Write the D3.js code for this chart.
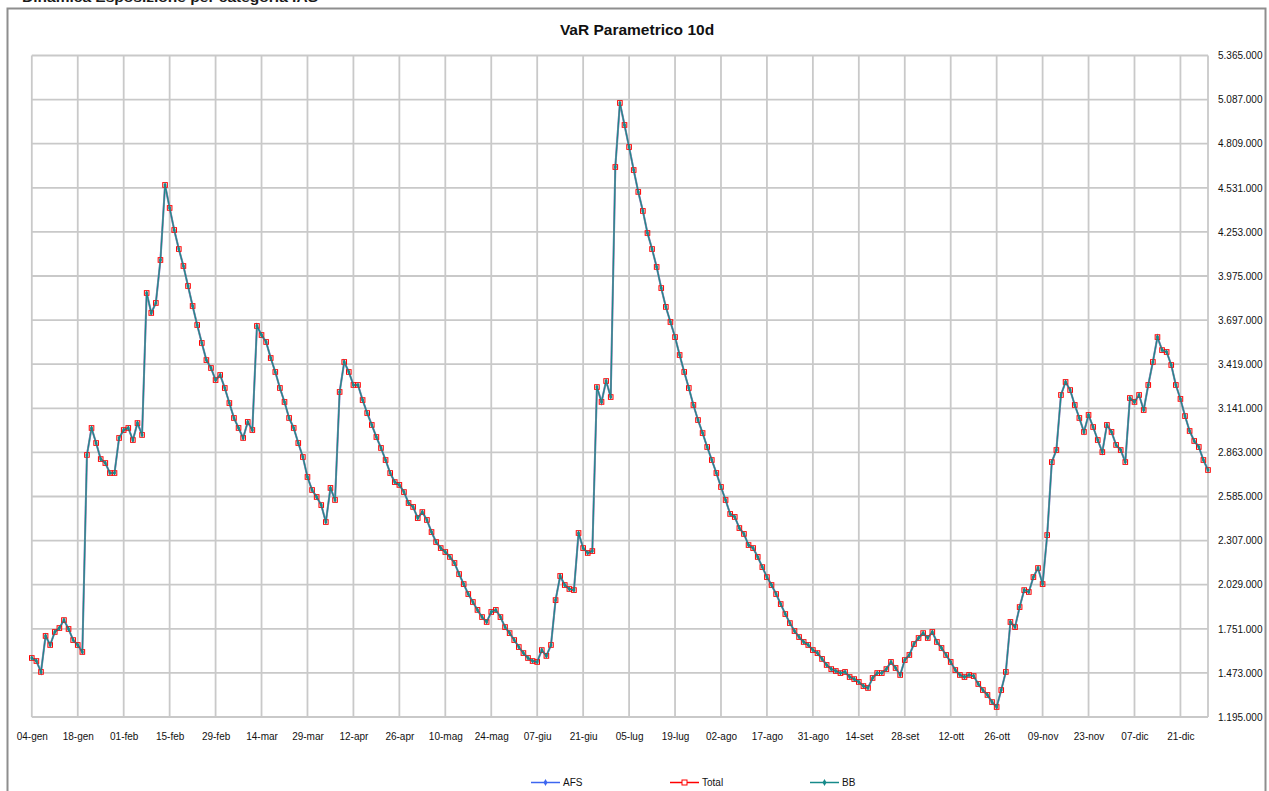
<!DOCTYPE html>
<html>
<head>
<meta charset="utf-8">
<script src="https://cdn.jsdelivr.net/npm/d3@7/dist/d3.min.js"></script>
<style>
  html, body { margin: 0; padding: 0; background: #fff; }
  svg { display: block; font-family: "Liberation Sans", Arial, sans-serif; }
</style>
</head>
<body>
<svg id="chart" width="1269" height="791"></svg>
<script>
// ---- DATA (values in thousands of euro) ----
const xTickLabels = ["04-gen","18-gen","01-feb","15-feb","29-feb","14-mar","29-mar","12-apr","26-apr","10-mag","24-mag","07-giu","21-giu","05-lug","19-lug","02-ago","17-ago","31-ago","14-set","28-set","12-ott","26-ott","09-nov","23-nov","07-dic","21-dic"];
const labelStep = 10; // one label every 10 business days
const yTickValues = [1195,1473,1751,2029,2307,2585,2863,3141,3419,3697,3975,4253,4531,4809,5087,5365];
const seriesNames = ["AFS","Total","BB"];

const totalValues = [
1567,1548,1479,1706,1649,1731,1756,1806,1750,1680,
1649,1605,2847,3017,2922,2821,2796,2733,2733,2954,
3004,3017,2941,3048,2973,3868,3742,3805,4076,4549,
4404,4265,4145,4038,3912,3786,3666,3553,3445,3395,
3319,3351,3269,3174,3080,3017,2954,3055,3004,3660,
3603,3559,3458,3370,3269,3181,3080,3017,2922,2834,
2708,2626,2582,2531,2424,2639,2563,3244,3433,3370,
3288,3288,3193,3111,3036,2960,2891,2815,2733,2676,
2658,2613,2544,2519,2449,2487,2437,2361,2298,2260,
2235,2204,2166,2096,2033,1970,1920,1870,1825,1794,
1857,1870,1825,1762,1724,1680,1636,1598,1567,1548,
1542,1617,1580,1649,1932,2084,2027,2002,1995,2355,
2260,2229,2241,3275,3181,3313,3212,4662,5066,4927,
4788,4643,4505,4385,4246,4145,4032,3899,3780,3685,
3590,3477,3370,3269,3162,3067,2985,2897,2815,2733,
2645,2563,2475,2456,2386,2349,2279,2260,2204,2140,
2077,2027,1970,1907,1844,1787,1737,1699,1668,1649,
1617,1598,1561,1523,1497,1485,1472,1479,1447,1434,
1416,1390,1378,1441,1472,1472,1497,1542,1504,1460,
1554,1586,1655,1693,1724,1693,1731,1668,1630,1586,
1542,1491,1460,1447,1460,1453,1403,1365,1334,1289,
1258,1365,1479,1794,1762,1888,1995,1983,2077,2134,
2033,2342,2802,2878,3225,3307,3256,3162,3080,2992,
3099,3023,2941,2865,3036,2992,2910,2878,2802,3206,
3181,3225,3130,3288,3433,3590,3508,3496,3414,3288,
3200,3092,2998,2935,2897,2815,2752
];
// In the picture the three lines lie on top of each other.
const afsValues = totalValues;
const bbValues = totalValues;

// ---- LAYOUT ----
const svg = d3.select("#chart");
const plot = { left: 31.8, right: 1208, top: 55.5, bottom: 717 };
const colors = { AFS: "#3d66f0", Total: "#ff0000", BB: "#168a8a" };

const fmt = d3.formatLocale({ decimal: ",", thousands: ".", grouping: [3], currency: ["", "€"] }).format(",d");

const N = totalValues.length;
const x = d3.scaleLinear().domain([0, N - 1]).range([plot.left, plot.right]);
const y = d3.scaleLinear().domain([yTickValues[0], yTickValues[yTickValues.length - 1]]).range([plot.bottom, plot.top]);

// Header text, cut by the top edge as in the reference
svg.append("text")
  .attr("x", 22).attr("y", 2)
  .attr("font-size", 13).attr("font-weight", "bold").attr("fill", "#1a1a1a")
  .attr("textLength", 296).attr("lengthAdjust", "spacingAndGlyphs")
  .text("Dinamica Esposizione per categoria IAS");

// Outer frame
svg.append("rect")
  .attr("x", 7.5).attr("y", 8.5).attr("width", 1258).attr("height", 800)
  .attr("fill", "#fff").attr("stroke", "#8e8e8e").attr("stroke-width", 2);

// Title
svg.append("text")
  .attr("x", 637).attr("y", 35)
  .attr("text-anchor", "middle").attr("font-size", 15.5).attr("font-weight", "bold").attr("fill", "#111")
  .text("VaR Parametrico 10d");

// Gridlines
const xTickIdx = d3.range(0, N, labelStep);
const gridColor = "#c9c9c9";
const grid = svg.append("g");
grid.selectAll("line.v").data(xTickIdx.concat([N - 1])).join("line")
  .attr("x1", d => x(d)).attr("x2", d => x(d))
  .attr("y1", plot.top).attr("y2", plot.bottom)
  .attr("stroke", gridColor).attr("stroke-width", 1.8);
grid.selectAll("line.h").data(yTickValues).join("line")
  .attr("x1", plot.left).attr("x2", plot.right)
  .attr("y1", d => y(d)).attr("y2", d => y(d))
  .attr("stroke", gridColor).attr("stroke-width", 1.8);

// X axis labels
const xAxis = d3.axisBottom(x).tickValues(xTickIdx)
  .tickFormat((d, i) => xTickLabels[i]).tickSize(0).tickPadding(0);
const gx = svg.append("g").attr("transform", `translate(0,${plot.bottom + 20})`).call(xAxis);
gx.select(".domain").remove();
gx.selectAll("text").attr("font-size", 10).attr("fill", "#111")
  .attr("font-family", "'Liberation Sans', Arial, sans-serif").attr("dy", "0.32em");

// Y axis labels (right)
const yAxis = d3.axisRight(y).tickValues(yTickValues).tickFormat(d => fmt(d * 1000)).tickSize(0).tickPadding(10);
const gy = svg.append("g").attr("transform", `translate(${plot.right},0)`).call(yAxis);
gy.select(".domain").remove();
gy.selectAll("text").attr("font-size", 10).attr("fill", "#111")
  .attr("font-family", "'Liberation Sans', Arial, sans-serif");

// Lines
const line = d3.line().x((d, i) => x(i)).y(d => y(d));
const g = svg.append("g");
g.append("path").datum(totalValues).attr("d", line)
  .attr("fill", "none").attr("stroke", colors.Total).attr("stroke-width", 1.5).attr("opacity", 0.45);
g.append("path").datum(afsValues).attr("d", line)
  .attr("fill", "none").attr("stroke", colors.AFS).attr("stroke-width", 2).attr("opacity", 0.45);
g.append("path").datum(afsValues).attr("d", line)
  .attr("fill", "none").attr("stroke", "#8a87a6").attr("stroke-width", 2).attr("opacity", 0.8);

// Total markers (hollow red squares)
g.selectAll("rect.tm").data(totalValues).join("rect")
  .attr("x", (d, i) => x(i) - 2.3).attr("y", d => y(d) - 2.3)
  .attr("width", 4.6).attr("height", 4.6)
  .attr("fill", "none").attr("stroke", colors.Total).attr("stroke-width", 1);

// BB line and markers
g.append("path").datum(bbValues).attr("d", line)
  .attr("fill", "none").attr("stroke", colors.BB).attr("stroke-width", 1.1);
const diamond = d3.symbol().type(d3.symbolDiamond).size(9);
g.selectAll("path.bm").data(bbValues).join("path")
  .attr("transform", (d, i) => `translate(${x(i)},${y(d)})`)
  .attr("d", diamond).attr("fill", colors.BB);

// Legend
const legendY = 782.5;
const legendItems = [
  { name: seriesNames[0], x: 531, color: colors.AFS, mk: "diamond" },
  { name: seriesNames[1], x: 670, color: colors.Total, mk: "square" },
  { name: seriesNames[2], x: 810, color: colors.BB, mk: "diamond" }
];
const lg = svg.append("g");
legendItems.forEach(it => {
  lg.append("line").attr("x1", it.x).attr("x2", it.x + 29).attr("y1", legendY).attr("y2", legendY)
    .attr("stroke", it.color).attr("stroke-width", 1.5);
  if (it.mk === "square") {
    lg.append("rect").attr("x", it.x + 14.5 - 2.5).attr("y", legendY - 2.5).attr("width", 5).attr("height", 5)
      .attr("fill", "#fff").attr("stroke", it.color).attr("stroke-width", 1);
  } else {
    lg.append("path").attr("transform", `translate(${it.x + 14.5},${legendY})`)
      .attr("d", d3.symbol().type(d3.symbolDiamond).size(14)).attr("fill", it.color);
  }
  lg.append("text").attr("x", it.x + 32).attr("y", legendY).attr("dy", "0.35em")
    .attr("font-size", 10).attr("fill", "#111").text(it.name);
});
</script>
</body>
</html>
